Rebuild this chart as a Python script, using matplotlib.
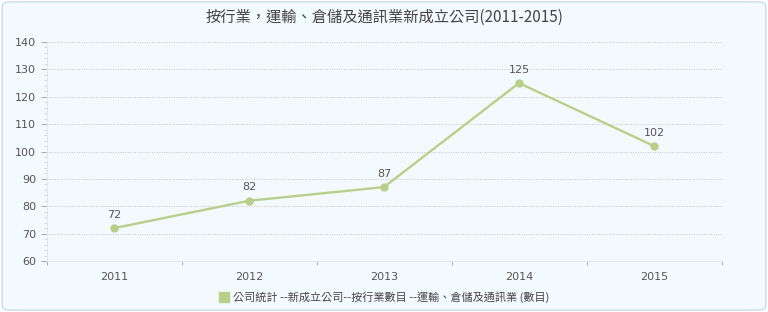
import matplotlib.pyplot as plt
from matplotlib.patches import FancyBboxPatch, Patch
from matplotlib.ticker import MultipleLocator, FixedLocator

plt.rcParams['font.family'] = ['Noto Sans CJK TC', 'DejaVu Sans']

years = ["2011", "2012", "2013", "2014", "2015"]
counts = [72, 82, 87, 125, 102]
title = "按行業，運輸、倉儲及通訊業新成立公司(2011-2015)"
legend_label = "公司統計 --新成立公司--按行業數目 --運輸、倉儲及通訊業 (數目)"

line_color = "#b8cf8a"
bg = "#f3fafd"

fig = plt.figure(figsize=(7.68, 3.12), dpi=100)
fig.patch.set_facecolor("white")
frame = FancyBboxPatch((0.003, 0.006), 0.994, 0.988, boxstyle="round,pad=0,rounding_size=0.012",
                       transform=fig.transFigure, facecolor=bg, edgecolor="#c8dde6",
                       linewidth=1, zorder=-10)
fig.patches.append(frame)

ax = fig.add_axes([46.5 / 768, 1 - 261 / 312, 675 / 768, 219 / 312])
ax.set_facecolor("none")
x = list(range(len(years)))
ax.plot(x, counts, color=line_color, linewidth=1.7, marker="o", markersize=5, zorder=3)
for xi, v in zip(x, counts):
    ax.annotate(str(v), (xi, v), xytext=(0, 6), textcoords="offset points",
                ha="center", va="bottom", fontsize=8, color="#555555", family="DejaVu Sans")

ax.set_xlim(-0.5, 4.5)
ax.set_ylim(60, 140)
ax.set_xticks(x)
ax.set_xticklabels(years, family="DejaVu Sans")
ax.xaxis.set_minor_locator(FixedLocator([i - 0.5 for i in range(6)]))
ax.tick_params(axis="x", which="major", length=0, pad=8, labelsize=8, labelcolor="#555555")
ax.tick_params(axis="x", which="minor", length=3, color="#aaaaaa", width=0.7)
ax.yaxis.set_major_locator(MultipleLocator(10))
ax.yaxis.set_minor_locator(MultipleLocator(2))
ax.tick_params(axis="y", which="major", length=4, color="#aaaaaa", labelsize=8,
               labelcolor="#555555", width=0.7)
ax.tick_params(axis="y", which="minor", length=2, color="#d0d0d0", width=0.6)
for lbl in ax.get_yticklabels():
    lbl.set_family("DejaVu Sans")
ax.grid(axis="y", which="major", linestyle=(0, (1, 1.5)), color="#c4c4c4", linewidth=0.7)
for s in ["top", "right"]:
    ax.spines[s].set_visible(False)
ax.spines["left"].set_color("#e3e8ea")
ax.spines["bottom"].set_color("#e3e8ea")

fig.text(0.5, 1 - 17 / 312, title, ha="center", va="center", fontsize=11, color="#444444")
fig.legend(handles=[Patch(color=line_color, label=legend_label)], loc="center",
           bbox_to_anchor=(0.5, 1 - 297 / 312), frameon=False, fontsize=8,
           handlelength=0.9, handleheight=0.9, handletextpad=0.4, labelcolor="#444444")

fig.savefig("out.png", dpi=100, facecolor=fig.get_facecolor())
